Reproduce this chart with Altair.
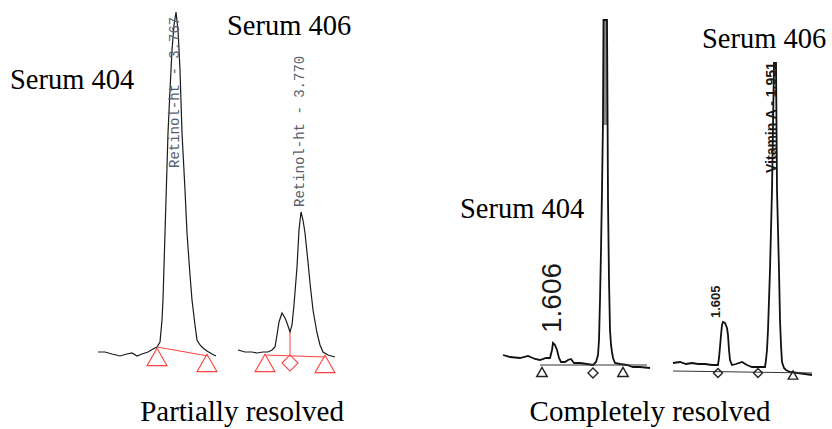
import altair as alt
import pandas as pd

W, H = 832, 429

# ---- chromatogram traces (x along the page, y measured downward) ----
p404_x = [98, 105, 112, 120, 127, 132, 137, 142, 148, 153, 157, 160, 162, 163, 165, 168, 170, 172, 174, 176,
          178, 180, 182, 185, 187, 190, 192, 195, 197, 200, 203, 207, 212, 216]
p404_y = [352, 352, 354, 356, 354, 353, 356, 354, 352, 349, 347, 342, 320, 300, 233, 133, 90, 50, 25, 12,
          30, 70, 133, 190, 233, 275, 300, 325, 340, 345, 348, 351, 354, 356]

p406_x = [238, 245, 252, 257, 263, 268, 272, 275, 277, 279, 282, 285, 287, 290, 292, 294, 297, 299, 301, 303,
          305, 308, 310, 313, 317, 320, 323, 328, 335]
p406_y = [350, 352, 352, 353, 352, 352, 350, 347, 335, 322, 313, 318, 323, 332, 325, 305, 267, 230, 212, 220,
          233, 262, 283, 310, 333, 345, 352, 355, 357]

c404_x = [503, 510, 520, 528, 535, 540, 546, 550, 552, 553, 555, 557, 559, 561, 565, 568, 571, 574, 580, 587,
          593, 596, 598, 599, 600, 601, 602, 603, 603.5, 607, 607.5, 608, 609, 610, 611, 612, 613, 615, 620, 627,
          633, 640, 650]
c404_y = [355, 357, 358, 356, 359, 360, 358, 358, 350, 343, 345, 350, 358, 362, 362, 360, 359, 363, 363, 364,
          365, 362, 355, 340, 300, 250, 190, 120, 20, 20, 107, 200, 280, 330, 345, 352, 358, 363, 364, 365,
          367, 367, 368]

c406_x = [673, 680, 686, 692, 698, 705, 712, 718, 719, 720, 721, 722, 723, 725, 727, 728, 729, 730, 732, 736,
          742, 747, 752, 758, 765, 766, 767, 768, 770, 771, 772, 774, 776, 777, 778, 779, 780, 781, 782, 784,
          786, 790, 798, 805, 812]
c406_y = [363, 362, 364, 363, 364, 364, 365, 365, 358, 347, 335, 325, 322, 323, 328, 335, 350, 360, 365, 364,
          362, 365, 367, 367, 367, 360, 350, 330, 270, 230, 190, 63, 63, 190, 230, 270, 320, 345, 362, 368,
          370, 372, 373, 374, 375]

# ---- integration baselines ----
red_seg_x = [157, 208, 265, 325, 290]
red_seg_x2 = [208, 208, 325, 325, 290]
red_seg_y = [347, 356, 355, 357, 332]
red_seg_y2 = [356, 356, 357, 357, 356]

blk_seg_x = [540, 673]
blk_seg_x2 = [647, 812]
blk_seg_y = [365, 371]
blk_seg_y2 = [365, 373]

# ---- peak markers ----
red_mk_x = [157, 207, 265, 290, 325]
red_mk_y = [357, 363, 363, 363, 364]
red_mk_shape = ["triangle-up", "triangle-up", "triangle-up", "diamond", "triangle-up"]
red_mk_size = [400, 400, 400, 260, 400]

blk_mk_x = [542, 593, 623, 718, 758, 793]
blk_mk_y = [372, 373, 372, 373, 373, 375]
blk_mk_shape = ["triangle-up", "diamond", "triangle-up", "diamond", "diamond", "triangle-up"]
blk_mk_size = [110, 100, 110, 80, 80, 90]

# ---- texts ----
serum_txt = ["Serum 404", "Serum 406", "Serum 404", "Serum 406"]
serum_x = [10, 227, 460, 702]
serum_y = [89, 35, 218, 48]

caption_txt = ["Partially resolved", "Completely resolved"]
caption_x = [242, 650]
caption_y = [421, 421]

ret_txt = ["Retinol-ht - 3.767", "Retinol-ht - 3.770"]
ret_x = [175, 300]
ret_y = [168, 207]

rt_txt = ["1.605", "Vitamin A - 1.951"]
rt_x = [716, 772]
rt_y = [318, 173]
rt_size = [13, 14]

big_rt_txt = ["1.606"]
big_rt_x = [553]
big_rt_y = [333]


def trace_frame(name, xs, ys):
    return pd.DataFrame({"trace": name, "order": range(len(xs)), "x": xs, "y": ys})


left_traces = pd.concat([trace_frame("p404", p404_x, p404_y), trace_frame("p406", p406_x, p406_y)])
right_traces = pd.concat([trace_frame("c404", c404_x, c404_y), trace_frame("c406", c406_x, c406_y)])

xs = alt.Scale(domain=[0, W], nice=False, zero=False)
ys = alt.Scale(domain=[0, H], reverse=True, nice=False, zero=False)
X = lambda f="x": alt.X(f"{f}:Q", scale=xs, axis=None)
Y = lambda f="y": alt.Y(f"{f}:Q", scale=ys, axis=None)

# saturated top of the off-scale peak
band = alt.Chart(pd.DataFrame({"x": [603.5], "x2": [607], "y": [20], "y2": [125]})).mark_rect(
    color="#8a8a8a").encode(x=X(), x2="x2", y=Y(), y2="y2")

left_lines = alt.Chart(left_traces).mark_line(color="#1a1a1a", strokeWidth=1.2).encode(
    x=X(), y=Y(), detail="trace:N", order="order:Q")
right_lines = alt.Chart(right_traces).mark_line(color="#111111", strokeWidth=1.8).encode(
    x=X(), y=Y(), detail="trace:N", order="order:Q")

red_segs = alt.Chart(pd.DataFrame({"x": red_seg_x, "x2": red_seg_x2, "y": red_seg_y, "y2": red_seg_y2})).mark_rule(
    color="#ff4040", strokeWidth=1).encode(x=X(), x2="x2", y=Y(), y2="y2")
blk_segs = alt.Chart(pd.DataFrame({"x": blk_seg_x, "x2": blk_seg_x2, "y": blk_seg_y, "y2": blk_seg_y2})).mark_rule(
    color="#333333", strokeWidth=1).encode(x=X(), x2="x2", y=Y(), y2="y2")

red_marks = alt.Chart(pd.DataFrame({"x": red_mk_x, "y": red_mk_y, "shape": red_mk_shape, "size": red_mk_size})).mark_point(
    filled=False, color="#ff4040", strokeWidth=1.1, opacity=1).encode(
    x=X(), y=Y(), shape=alt.Shape("shape:N", scale=None), size=alt.Size("size:Q", scale=None))
blk_marks = alt.Chart(pd.DataFrame({"x": blk_mk_x, "y": blk_mk_y, "shape": blk_mk_shape, "size": blk_mk_size})).mark_point(
    filled=False, color="#222222", strokeWidth=1.4, opacity=1).encode(
    x=X(), y=Y(), shape=alt.Shape("shape:N", scale=None), size=alt.Size("size:Q", scale=None))

serum = alt.Chart(pd.DataFrame({"x": serum_x, "y": serum_y, "t": serum_txt})).mark_text(
    font="Liberation Serif", fontSize=28.5, align="left", baseline="alphabetic", color="#000000").encode(
    x=X(), y=Y(), text="t:N")
captions = alt.Chart(pd.DataFrame({"x": caption_x, "y": caption_y, "t": caption_txt})).mark_text(
    font="Liberation Serif", fontSize=29, align="center", baseline="alphabetic", color="#000000").encode(
    x=X(), y=Y(), text="t:N")

retinol = alt.Chart(pd.DataFrame({"x": ret_x, "y": ret_y, "t": ret_txt})).mark_text(
    font="Liberation Mono", fontSize=14, angle=270, align="left", baseline="middle", color="#56606e").encode(
    x=X(), y=Y(), text="t:N")
rt_labels = alt.Chart(pd.DataFrame({"x": rt_x, "y": rt_y, "t": rt_txt, "s": rt_size})).mark_text(
    font="Liberation Sans", fontWeight="bold", angle=270, align="left", baseline="middle", color="#1a1a1a").encode(
    x=X(), y=Y(), text="t:N", size=alt.Size("s:Q", scale=None))
big_rt = alt.Chart(pd.DataFrame({"x": big_rt_x, "y": big_rt_y, "t": big_rt_txt})).mark_text(
    font="Liberation Sans", fontSize=28, angle=270, align="left", baseline="middle", color="#1a1a1a").encode(
    x=X(), y=Y(), text="t:N")

chart = alt.layer(
    band, left_lines, right_lines, red_segs, blk_segs, red_marks, blk_marks,
    serum, captions, retinol, rt_labels, big_rt,
).properties(width=W, height=H, padding=0, autosize="none", background="white").configure_view(stroke=None)

chart.save("out.html", embed_options={"renderer": "svg", "actions": False})
